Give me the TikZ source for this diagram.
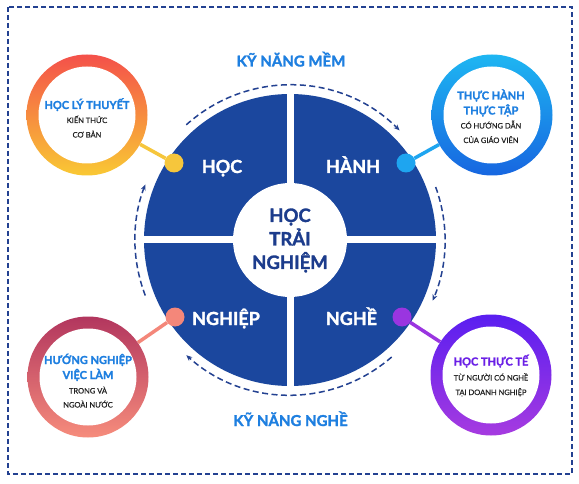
\documentclass[tikz,border=0pt]{standalone}
\usepackage{fontspec}
\setmainfont{Lato}[BoldFeatures={FakeBold=1.6}]
\newfontfamily\subfnt{Lato}[FakeBold=0.5]
\usetikzlibrary{arrows.meta,calc}
\definecolor{wheelblue}{RGB}{27,71,158}
\definecolor{coreblue}{RGB}{28,60,140}
\definecolor{dashblue}{RGB}{35,65,145}
\definecolor{titleblue}{RGB}{30,127,224}
\definecolor{titlepurple}{RGB}{106,31,230}
\definecolor{subgray}{RGB}{34,34,34}
\definecolor{tlA}{RGB}{244,80,74}\definecolor{tlB}{RGB}{249,201,52}
\definecolor{trA}{RGB}{30,182,242}\definecolor{trB}{RGB}{23,102,224}
\definecolor{blA}{RGB}{178,54,94}\definecolor{blB}{RGB}{246,140,124}
\definecolor{brA}{RGB}{90,30,240}\definecolor{brB}{RGB}{166,59,224}
\definecolor{dotY}{RGB}{246,198,60}
\definecolor{dotC}{RGB}{30,165,240}
\definecolor{dotS}{RGB}{244,135,122}
\definecolor{dotP}{RGB}{154,53,224}
\begin{document}
\begin{tikzpicture}[x=1pt,y=-1pt,
  ringnode/.style={circle, minimum size=121pt, inner sep=0pt},
  holenode/.style={circle, fill=white, minimum size=97pt, inner sep=0pt},
  dotnode/.style={circle, minimum size=19pt, inner sep=0pt},
  conn/.style={line width=3.5pt},
  quadlabel/.style={text=white, font=\bfseries\fontsize{18}{18}\selectfont, anchor=base, inner sep=0pt},
  corelabel/.style={text=coreblue, font=\bfseries\fontsize{18.5}{18.5}\selectfont, anchor=base, inner sep=0pt},
  skill/.style={text=titleblue, font=\bfseries\fontsize{15}{15}\selectfont, anchor=base, inner sep=0pt},
  ringtitle/.style={font=\bfseries\fontsize{11}{11}\selectfont, anchor=base, inner sep=0pt},
  ringsub/.style={text=subgray, font=\subfnt\fontsize{7.5}{7.5}\selectfont, anchor=base, inner sep=0pt},
  cyc/.style={draw=dashblue, line width=1.5pt, dash pattern=on 6pt off 3.5pt, -{Stealth[length=6pt,width=5pt]}}
]
\useasboundingbox (0,0) rectangle (579,484);
\fill[white] (0,0) rectangle (579,484);
% border
\draw[dashblue, line width=1.4pt, dash pattern=on 5pt off 3pt] (8,7) rectangle (572,474);

% wheel
\node[circle, fill=wheelblue, minimum size=292pt, inner sep=0pt] (wheel) at (290,240) {};
\fill[white] (286.5,88) rectangle (293.5,392);
\fill[white] (138,236.5) rectangle (442,243.5);
\node[circle, fill=white, minimum size=114pt, inner sep=0pt] (core) at (290,240) {};
\node[corelabel] (c1) at (290,222) {HỌC};
\node[corelabel] (c2) at (290,245.5) {TRẢI};
\node[corelabel] (c3) at (290,269) {NGHIỆM};

\node[quadlabel] (q1) at (222,173) {HỌC};
\node[quadlabel] (q2) at (353,173) {HÀNH};
\node[quadlabel] (q3) at (226,325) {NGHIỆP};
\node[quadlabel] (q4) at (351.5,325) {NGHỀ};

% cycle arrows
\draw[cyc] ($(wheel.center)+(-132:155)$) arc[start angle=-132, end angle=-45, radius=155];
\draw[cyc] ($(wheel.center)+(-20:155)$) arc[start angle=-20, end angle=23, radius=155];
\draw[cyc] ($(wheel.center)+(49:155)$) arc[start angle=49, end angle=132, radius=155];
\draw[cyc] ($(wheel.center)+(159:155)$) arc[start angle=159, end angle=201, radius=155];

\node[skill] (s1) at (291,66.5) {KỸ NĂNG MỀM};
\node[skill] (s2) at (290.5,426) {KỸ NĂNG NGHỀ};

% rings
\node[ringnode, top color=tlA, bottom color=tlB] (r1) at (87,115) {};
\node[holenode] (h1) at (87,115) {};
\node[ringnode, top color=trA, bottom color=trB] (r2) at (492,115) {};
\node[holenode] (h2) at (492,115) {};
\node[ringnode, top color=blA, bottom color=blB] (r3) at (88,377) {};
\node[holenode] (h3) at (88,377) {};
\node[ringnode, top color=brA, bottom color=brB] (r4) at (491,375) {};
\node[holenode] (h4) at (491,375) {};

% dots
\node[dotnode, fill=dotY] (d1) at (174,163) {};
\node[dotnode, fill=dotC] (d2) at (406,163) {};
\node[dotnode, fill=dotS] (d3) at (175,317) {};
\node[dotnode, fill=dotP] (d4) at (402,317) {};

% connectors
\draw[conn, dotY] (r1) -- (d1);
\draw[conn, dotC] (r2) -- (d2);
\draw[conn, dotS] (r3) -- (d3);
\draw[conn, dotP] (r4) -- (d4);

% ring texts
\node[ringtitle, text=titleblue] (t1a) at (87,109) {HỌC LÝ THUYẾT};
\node[ringsub] (t1b) at (87,123) {KIẾN THỨC};
\node[ringsub] (t1c) at (87,137.5) {CƠ BẢN};

\node[ringtitle, text=titleblue] (t2a) at (491,99.5) {THỰC HÀNH};
\node[ringtitle, text=titleblue] (t2b) at (491,114.5) {THỰC TẬP};
\node[ringsub] (t2c) at (491,128.5) {CÓ HƯỚNG DẪN};
\node[ringsub] (t2d) at (491,143) {CỦA GIÁO VIÊN};

\node[ringtitle, text=titleblue] (t3a) at (88,364) {HƯỚNG NGHIỆP};
\node[ringtitle, text=titleblue] (t3b) at (88,379) {VIỆC LÀM};
\node[ringsub] (t3c) at (88,393.5) {TRONG VÀ};
\node[ringsub] (t3d) at (88,407.5) {NGOÀI NƯỚC};

\node[ringtitle, text=titlepurple] (t4a) at (491,365.5) {HỌC THỰC TẾ};
\node[ringsub] (t4b) at (491,380.5) {TỪ NGƯỜI CÓ NGHỀ};
\node[ringsub] (t4c) at (491,395) {TẠI DOANH NGHIỆP};
\end{tikzpicture}
\end{document}
